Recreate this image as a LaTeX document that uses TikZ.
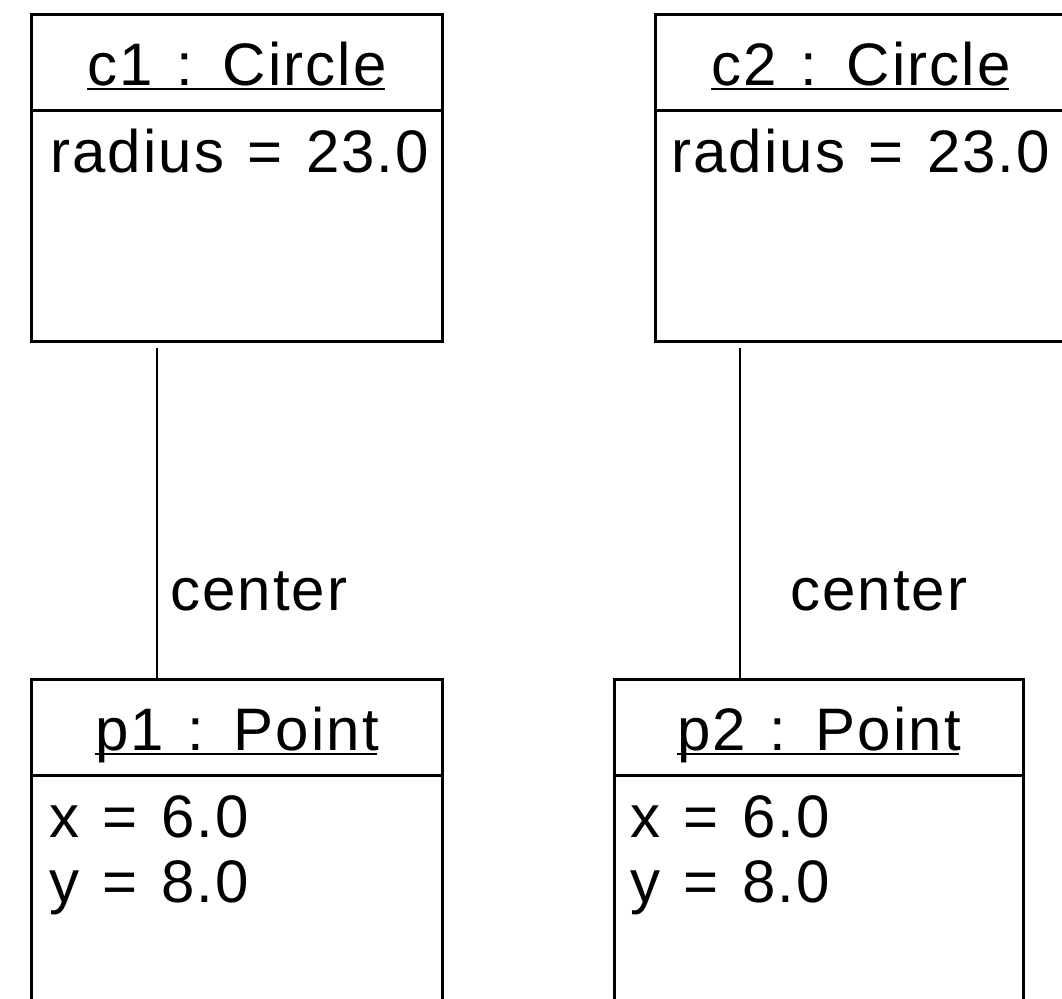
\documentclass[tikz,border=0pt]{standalone}
\usepackage{fontspec}
\setmainfont{Liberation Sans}[LetterSpace=3.5,WordSpace=1.25]
\begin{document}
\begin{tikzpicture}[x=1pt,y=-1pt,
  objbox/.style={draw, line width=3pt, minimum width=411pt, minimum height=327pt, inner sep=0pt, anchor=north west},
  divider/.style={line width=3pt},
  title/.style={inner sep=0pt, anchor=base, font=\fontsize{60}{72}\selectfont},
  attr/.style={inner sep=0pt, anchor=base west, font=\fontsize{60}{72}\selectfont},
  uline/.style={line width=2pt},
  assoc/.style={line width=2pt},
  lbl/.style={inner sep=0pt, anchor=base west, font=\fontsize{60}{72}\selectfont}]
\useasboundingbox (0,0) rectangle (1062,998);
\clip (0,0) rectangle (1062,998);
\fill[white] (0,0) rectangle (1062,998);

% objects
\node[objbox] (c1) at (30,13) {};
\node[objbox] (c2) at (654,13) {};
\node[objbox] (p1) at (30,678) {};
\node[objbox, minimum width=409pt] (p2) at (613,678) {};

% dividers
\foreach \o in {c1,c2,p1,p2}{
  \draw[divider] ([yshift=-97pt]\o.north west) -- ([yshift=-97pt]\o.north east);
}

% titles
\node[title] (c1t) at ([yshift=-72pt]c1.north) {c1 : Circle};
\node[title] (c2t) at ([yshift=-72pt]c2.north) {c2 : Circle};
\node[title] (p1t) at ([yshift=-72pt]p1.north) {p1 : Point};
\node[title] (p2t) at ([yshift=-72pt]p2.north) {p2 : Point};
\foreach \t in {c1t,c2t,p1t,p2t}{
  \draw[uline] ([yshift=-4pt]\t.base west) -- ([yshift=-4pt,xshift=-2pt]\t.base east);
}

% attributes
\node[attr] (c1a) at ([xshift=20pt,yshift=-159pt]c1.north west) {radius = 23.0};
\node[attr] (c2a) at ([xshift=17pt,yshift=-159pt]c2.north west) {radius = 23.0};
\node[attr] (p1x) at ([xshift=19pt,yshift=-159pt]p1.north west) {x = 6.0};
\node[attr] (p1y) at ([xshift=19pt,yshift=-224pt]p1.north west) {y = 8.0};
\node[attr] (p2x) at ([xshift=17pt,yshift=-159pt]p2.north west) {x = 6.0};
\node[attr] (p2y) at ([xshift=17pt,yshift=-224pt]p2.north west) {y = 8.0};

% associations
\draw[assoc] ([xshift=-80.5pt,yshift=-5pt]c1.south) -- ([xshift=-80.5pt]p1.north);
\draw[assoc] ([xshift=-121.5pt,yshift=-5pt]c2.south) -- ([xshift=-79.5pt]p2.north);
\node[lbl] (l1) at (170,610) {center};
\node[lbl] (l2) at (790,610) {center};
\end{tikzpicture}
\end{document}
